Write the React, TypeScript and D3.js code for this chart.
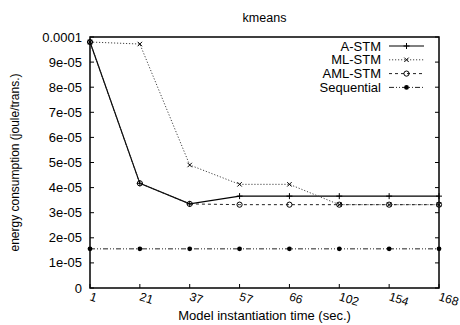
import React from 'react';
import * as d3 from 'd3';

// categories on the x axis (equally spaced)
const instTimes = ['1', '21', '37', '57', '66', '102', '154', '168'];

// energy per transaction
const aStm = [9.8e-5, 4.17e-5, 3.35e-5, 3.66e-5, 3.66e-5, 3.66e-5, 3.66e-5, 3.66e-5];
const mlStm = [9.8e-5, 9.72e-5, 4.9e-5, 4.13e-5, 4.13e-5, 3.32e-5, 3.32e-5, 3.32e-5];
const amlStm = [9.8e-5, 4.17e-5, 3.35e-5, 3.32e-5, 3.32e-5, 3.32e-5, 3.32e-5, 3.32e-5];
const sequential = [1.56e-5, 1.56e-5, 1.56e-5, 1.56e-5, 1.56e-5, 1.56e-5, 1.56e-5, 1.56e-5];

const yTicks = [0, 1e-5, 2e-5, 3e-5, 4e-5, 5e-5, 6e-5, 7e-5, 8e-5, 9e-5, 1e-4];
const yTickLabels = ['0', '1e-05', '2e-05', '3e-05', '4e-05', '5e-05', '6e-05', '7e-05', '8e-05', '9e-05', '0.0001'];

const seriesNames = ['A-STM', 'ML-STM', 'AML-STM', 'Sequential'];

const W = 460;
const H = 325;
const margin = { top: 37, right: 21, bottom: 37, left: 90 };
const font = '"Liberation Sans", Arial, Helvetica, sans-serif';

const Marker = ({ kind, x, y }: { kind: string; x: number; y: number }) => {
  if (kind === 'plus') {
    return (
      <g stroke="#000" strokeWidth={1}>
        <line x1={x - 3} x2={x + 3} y1={y} y2={y} />
        <line x1={x} x2={x} y1={y - 3} y2={y + 3} />
      </g>
    );
  }
  if (kind === 'cross') {
    return (
      <g stroke="#000" strokeWidth={1}>
        <line x1={x - 2.2} x2={x + 2.2} y1={y - 2.2} y2={y + 2.2} />
        <line x1={x - 2.2} x2={x + 2.2} y1={y + 2.2} y2={y - 2.2} />
      </g>
    );
  }
  if (kind === 'circle') {
    return <circle cx={x} cy={y} r={2.6} fill="none" stroke="#000" strokeWidth={1} />;
  }
  return <circle cx={x} cy={y} r={2.4} fill="#000" />;
};

export default function App() {
  const x = d3.scalePoint<string>()
    .domain(instTimes)
    .range([margin.left, W - margin.right]);

  const y = d3.scaleLinear()
    .domain([0, 1e-4])
    .range([H - margin.bottom, margin.top]);

  const series = [
    { name: seriesNames[0], values: aStm, dash: undefined, width: 1.2, color: '#000', marker: 'plus' },
    { name: seriesNames[1], values: mlStm, dash: '1.2,1.8', width: 1, color: '#444', marker: 'cross' },
    { name: seriesNames[2], values: amlStm, dash: '3,3', width: 1, color: '#222', marker: 'circle' },
    { name: seriesNames[3], values: sequential, dash: '5,2,1,2,1,2', width: 1, color: '#222', marker: 'dot' },
  ];

  const line = d3.line<number>()
    .x((d, i) => x(instTimes[i]) as number)
    .y(d => y(d));

  const x0 = margin.left;
  const x1 = W - margin.right;
  const y0 = H - margin.bottom;
  const y1 = margin.top;

  return (
    <svg width={W} height={H} style={{ position: 'absolute', left: 0, top: 0, background: '#fff' }}
      fontFamily={font}>
      <rect width={W} height={H} fill="#fff" />

      {/* title */}
      <text x={(x0 + x1) / 2} y={22} textAnchor="middle" fontSize={12.5}>kmeans</text>

      {/* y ticks, both sides */}
      {yTicks.map((t, i) => (
        <g key={'y' + i}>
          <line x1={x0} x2={x0 + 4} y1={y(t)} y2={y(t)} stroke="#000" />
          <line x1={x1} x2={x1 - 4} y1={y(t)} y2={y(t)} stroke="#000" />
          <text x={x0 - 8} y={y(t)} dy="0.35em" textAnchor="end" fontSize={13}>{yTickLabels[i]}</text>
        </g>
      ))}

      {/* x ticks */}
      {instTimes.map(c => {
        const px = x(c) as number;
        return (
          <g key={'x' + c}>
            <line x1={px} x2={px} y1={y0} y2={y0 - 4} stroke="#000" />
            <text x={px - 1} y={y0 + 12} textAnchor="start" fontSize={12}
              transform={`rotate(18, ${px - 1}, ${y0 + 12})`}>{c}</text>
          </g>
        );
      })}

      {/* series */}
      {series.map(s => (
        <g key={s.name}>
          <path d={line(s.values) ?? ''} fill="none" stroke={s.color} strokeWidth={s.width}
            strokeDasharray={s.dash} />
          {s.values.map((v, i) => (
            <Marker key={i} kind={s.marker} x={x(instTimes[i]) as number} y={y(v)} />
          ))}
        </g>
      ))}

      {/* border */}
      <rect x={x0} y={y1} width={x1 - x0} height={y0 - y1} fill="none" stroke="#000" strokeWidth={1.5} />

      {/* legend */}
      {series.map((s, i) => {
        const ly = 46 + i * 13.8;
        return (
          <g key={'leg' + s.name}>
            <text x={381} y={ly} dy="0.35em" textAnchor="end" fontSize={13}>{s.name}</text>
            <line x1={389} x2={424} y1={ly} y2={ly} stroke={s.color} strokeWidth={s.width}
              strokeDasharray={s.dash} />
            <Marker kind={s.marker} x={406.5} y={ly} />
          </g>
        );
      })}

      {/* axis titles */}
      <text x={(x0 + x1) / 2} y={320} textAnchor="middle" fontSize={13}>Model instantiation time (sec.)</text>
      <text transform={`translate(15, ${(y0 + y1) / 2}) rotate(-90)`} textAnchor="middle" dy="0.35em"
        fontSize={12}>energy consumption (joule/trans.)</text>
    </svg>
  );
}
